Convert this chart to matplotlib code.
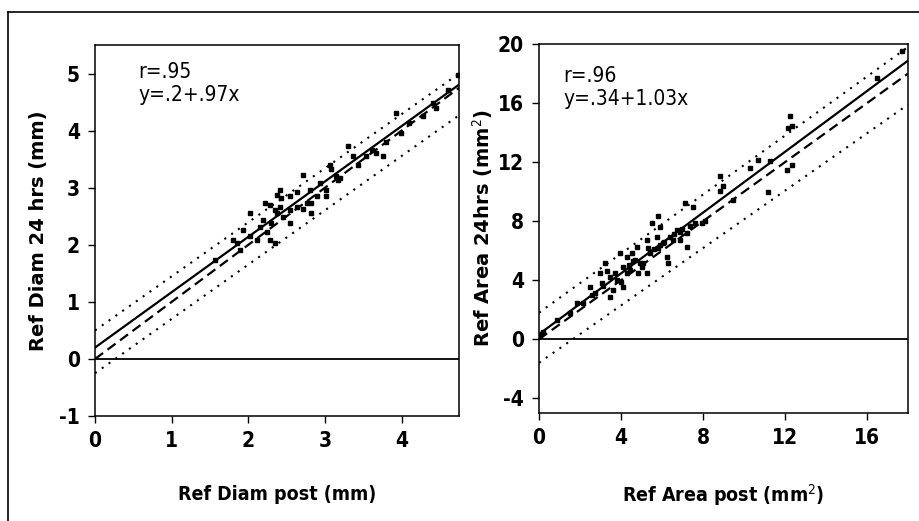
import matplotlib
matplotlib.use('Agg')
import matplotlib.pyplot as plt
from matplotlib import font_manager
from matplotlib.lines import Line2D
import numpy as np

installed = {f.name for f in font_manager.fontManager.ttflist}
narrow = 'Liberation Sans Narrow' if 'Liberation Sans Narrow' in installed else 'DejaVu Sans'
plt.rcParams['font.family'] = [narrow, 'DejaVu Sans']
plt.rcParams['font.stretch'] = 'condensed'
plt.rcParams['axes.unicode_minus'] = False

# left panel: reference diameter (mm)
diam_post = [4.73, 4.61, 4.41, 3.93, 3.80, 3.99, 3.76, 3.61, 3.30, 3.37, 3.43, 3.06,
             3.19, 3.02, 3.02, 2.71, 2.80, 2.82, 2.71, 2.63, 2.54, 2.43, 2.41, 2.35,
             2.28, 2.22, 2.45, 2.30, 2.37, 2.19, 2.02, 2.15, 2.11, 1.93, 2.02, 2.28,
             2.35, 2.24, 1.85, 1.89, 1.80, 1.56, 2.54, 2.63, 2.76, 2.89, 2.93, 3.17,
             3.54, 3.67, 4.10, 4.28, 4.45, 2.41, 2.37, 2.54, 2.82, 3.15, 3.08]
diam_24h = [4.98, 4.72, 4.49, 4.31, 3.81, 3.96, 3.55, 3.67, 3.73, 3.55, 3.40, 3.40,
            3.17, 2.96, 2.85, 3.23, 2.96, 2.73, 2.62, 2.93, 2.85, 2.82, 2.67, 2.61,
            2.70, 2.73, 2.49, 2.38, 2.56, 2.44, 2.56, 2.32, 2.09, 2.26, 2.15, 2.09,
            2.03, 2.23, 2.03, 1.91, 2.09, 1.74, 2.61, 2.67, 2.73, 2.85, 3.08, 3.14,
            3.55, 3.61, 4.13, 4.25, 4.40, 2.96, 2.88, 2.38, 2.56, 3.20, 3.32]
diam_fit = (0.2, 0.97)
diam_x = [0, 4.75]
diam_upper = [0.5, 5.0]
diam_lower = [-0.25, 4.27]

# right panel: reference area (mm^2)
area_post = [17.69, 16.47, 12.24, 12.32, 12.16, 11.27, 12.08, 12.33, 11.19, 10.70,
             10.29, 8.83, 8.83, 9.00, 9.48, 7.53, 7.12, 7.93, 7.37, 7.20, 6.71, 7.20,
             5.82, 5.74, 6.07, 6.23, 6.31, 5.25, 5.41, 5.09, 4.76, 4.52, 4.28, 3.95,
             5.25, 4.44, 4.28, 4.11, 3.79, 3.63, 3.46, 3.22, 2.98, 3.06, 2.73, 2.49,
             2.16, 1.84, 1.51, 0.86, 0.21, 0.05, 5.90, 5.50, 6.55, 6.88, 4.92, 4.85,
             3.46, 4.60, 5.60, 6.40, 3.30, 4.00, 5.00, 4.10, 4.70, 5.30, 5.80, 6.10,
             6.60, 7.00, 3.70, 2.60, 3.10, 4.40, 5.90, 6.90, 7.60, 8.10]
area_24h = [19.55, 17.73, 15.13, 14.45, 14.33, 12.06, 11.50, 11.84, 9.98, 12.18,
            11.61, 11.05, 10.03, 10.40, 9.45, 8.99, 9.22, 7.87, 7.64, 7.20, 7.42, 6.28,
            8.32, 6.96, 6.51, 5.60, 5.15, 6.74, 5.83, 5.15, 6.28, 5.83, 5.60, 5.83,
            4.47, 4.69, 4.47, 3.56, 4.02, 3.34, 4.24, 5.15, 4.47, 3.79, 3.11, 3.56,
            2.43, 2.43, 1.75, 1.29, 0.50, 0.27, 7.60, 7.90, 6.70, 6.70, 5.15, 4.47,
            2.88, 5.30, 6.10, 6.90, 4.60, 3.90, 4.90, 4.90, 5.40, 6.20, 6.20, 6.60,
            7.10, 7.50, 4.50, 3.00, 3.60, 5.00, 6.40, 7.30, 7.90, 8.00]
area_fit = (0.34, 1.03)
area_x = [0, 18]
area_upper = [1.8, 19.8]
area_lower = [-1.6, 15.9]

fig = plt.figure(figsize=(9.2, 5.21), dpi=100)
ax1 = fig.add_axes([0.1033, 0.2015, 0.3957, 0.712])
ax2 = fig.add_axes([0.5859, 0.2073, 0.401, 0.708])


def draw_panel(ax, xs, ys, fit, bx, up, lo, xlim, ylim, xticks, yticks,
               xlabel, ylabel, txt, ypad):
    xx = np.array(bx, dtype=float)
    ax.plot(xs, ys, 's', color='black', markersize=3, zorder=3)
    ax.plot(xx, fit[0] + fit[1] * xx, color='black', lw=1.6, zorder=4)
    ax.plot(xx, xx, color='black', lw=1.6, ls=(0, (4.5, 2.5)), zorder=4)
    ax.plot(bx, up, color='black', lw=1.5, ls=(0, (1, 3)))
    ax.plot(bx, lo, color='black', lw=1.5, ls=(0, (1, 3)))
    ax.axhline(0, color='black', lw=1.3)
    ax.set_xlim(*xlim)
    ax.set_ylim(*ylim)
    ax.set_xticks(xticks)
    ax.set_yticks(yticks)
    ax.tick_params(direction='out', length=5, width=1, labelsize=15, pad=6)
    for lab in ax.get_xticklabels() + ax.get_yticklabels():
        lab.set_fontweight('bold')
    ax.set_xlabel(xlabel, fontsize=14, fontweight='bold', labelpad=24)
    ax.set_ylabel(ylabel, fontsize=14, fontweight='bold', labelpad=ypad,
                  fontstretch='normal')
    for s in ax.spines.values():
        s.set_linewidth(1.1)
    ax.text(txt[0], txt[1], txt[2], transform=ax.transAxes, fontsize=15,
            va='top', ha='left', linespacing=1.2)


draw_panel(ax1, diam_post, diam_24h, diam_fit, diam_x, diam_upper, diam_lower,
           (0, 4.75), (-1, 5.5), [0, 1, 2, 3, 4], [-1, 0, 1, 2, 3, 4, 5],
           'Ref Diam post (mm)', 'Ref Diam 24 hrs (mm)',
           (0.12, 0.955, 'r=.95\ny=.2+.97x'), 8)
draw_panel(ax2, area_post, area_24h, area_fit, area_x, area_upper, area_lower,
           (0, 18), (-5, 20), [0, 4, 8, 12, 16], [-4, 0, 4, 8, 12, 16, 20],
           'Ref Area post (mm$^2$)', 'Ref Area 24hrs (mm$^2$)',
           (0.065, 0.94, 'r=.96\ny=.34+1.03x'), 2)

# scanned page border (left and top edges)
fig.add_artist(Line2D([8 / 920, 8 / 920], [0, 1 - 12 / 521], color='black', lw=1.2))
fig.add_artist(Line2D([8 / 920, 1], [1 - 12 / 521, 1 - 12 / 521], color='black', lw=1.2))

fig.savefig('out.png', dpi=100)
